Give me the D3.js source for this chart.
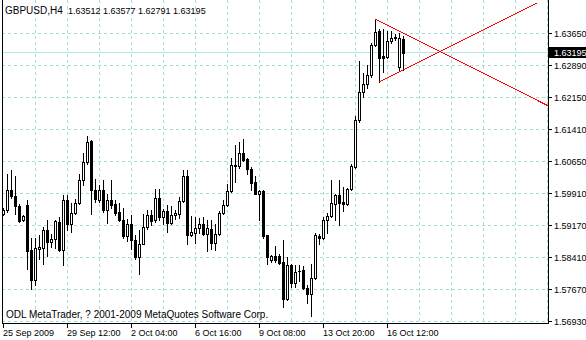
<!DOCTYPE html>
<html><head><meta charset="utf-8">
<script src="https://cdn.jsdelivr.net/npm/d3@7"></script>
<style>
html,body{margin:0;padding:0;background:#fff;overflow:hidden}
svg{display:block}
text{font-family:"Liberation Sans",Arial,sans-serif;fill:#000}
</style></head><body>
<svg id="c" width="586" height="340"></svg>
<script>
const symbol = "GBPUSD,H4";
const copyright = "ODL MetaTrader, ? 2001-2009 MetaQuotes Software Corp.";

const opens = [1.59427,1.59536,1.59987,1.59862,1.59629,1.59287,1.59652,1.58587,1.57902,1.58626,
1.58641,1.59069,1.58781,1.58859,1.59248,1.58602,1.59769,1.59209,1.59458,1.59691,
1.60236,1.60648,1.61138,1.60002,1.59769,1.60002,1.59536,1.59753,1.59660,1.59481,
1.59302,1.58913,1.59209,1.58836,1.58431,1.58742,1.59131,1.59419,1.59287,1.59816,
1.59364,1.59504,1.59224,1.59403,1.59442,1.59730,1.60313,1.58952,1.58991,1.59116,
1.59209,1.58976,1.59092,1.58758,1.58960,1.59458,1.59637,1.59963,1.60547,1.60547,
1.60866,1.60718,1.60492,1.60173,1.59909,1.59963,1.58937,1.58369,1.58447,1.58447,
1.58307,1.57459,1.58237,1.57824,1.58097,1.58120,1.57716,1.57560,1.57949,1.58913,
1.58882,1.59302,1.59396,1.59676,1.59870,1.59714,1.59676,1.60026,1.60531,1.61620,
1.62266,1.62460,1.62670,1.63370,1.63705,1.63114,1.63098,1.63471,1.63541,1.62849,
1.63512];
const highs = [1.59582,1.60376,1.60453,1.60313,1.59676,1.59403,1.59769,1.58882,1.58882,1.58937,
1.59131,1.59287,1.58976,1.59302,1.59364,1.59870,1.59870,1.59691,1.59792,1.60360,
1.60858,1.61247,1.61153,1.60259,1.60103,1.60220,1.59909,1.60220,1.59753,1.59691,
1.59582,1.59326,1.59403,1.58937,1.59069,1.59427,1.59536,1.59520,1.60026,1.60026,
1.59559,1.59637,1.59613,1.59520,1.59831,1.60453,1.60469,1.59380,1.59364,1.59349,
1.59364,1.59302,1.59287,1.59209,1.59504,1.59753,1.60127,1.60749,1.61037,1.61114,
1.61192,1.60749,1.60531,1.60313,1.59987,1.59987,1.58937,1.58470,1.58686,1.58493,
1.58820,1.58431,1.58276,1.58237,1.58237,1.58213,1.57770,1.58276,1.58991,1.58976,
1.59364,1.59458,1.60220,1.59909,1.60220,1.60064,1.60049,1.60593,1.61714,1.62997,
1.62709,1.62904,1.63409,1.63969,1.63744,1.63736,1.63705,1.63705,1.63627,1.63658,
1.63577];
const lows = [1.59403,1.59481,1.59816,1.59427,1.59248,1.59263,1.58159,1.57692,1.57770,1.58392,
1.58276,1.58447,1.58664,1.58649,1.58571,1.58237,1.59053,1.59014,1.59442,1.59660,
1.60103,1.60609,1.59427,1.59714,1.59714,1.59481,1.59224,1.59582,1.59403,1.59271,
1.58882,1.58804,1.58626,1.58392,1.58027,1.58727,1.59092,1.59170,1.59248,1.59302,
1.59209,1.59014,1.59209,1.59326,1.59349,1.59714,1.58727,1.58913,1.58758,1.58991,
1.58937,1.58571,1.58626,1.58587,1.58937,1.59427,1.59613,1.59948,1.60181,1.60516,
1.60671,1.60376,1.59987,1.59893,1.59287,1.58882,1.58260,1.58314,1.58314,1.58276,
1.57264,1.57436,1.57731,1.57731,1.57871,1.57692,1.57358,1.57054,1.57926,1.58727,
1.58859,1.58991,1.59364,1.59287,1.59170,1.59504,1.59637,1.60002,1.60516,1.61581,
1.62165,1.62359,1.62631,1.63347,1.62515,1.62748,1.63075,1.63409,1.63487,1.62771,
1.62791];
const closes = [1.59536,1.59987,1.59847,1.59629,1.59271,1.59380,1.58571,1.57902,1.58649,1.58664,
1.59069,1.58781,1.58859,1.59271,1.58602,1.59769,1.59209,1.59458,1.59691,1.60236,
1.60648,1.61114,1.59987,1.59784,1.60002,1.59536,1.59753,1.59637,1.59458,1.59287,
1.58913,1.59209,1.58836,1.58431,1.58742,1.59131,1.59403,1.59271,1.59816,1.59364,
1.59504,1.59224,1.59403,1.59458,1.59730,1.60313,1.58952,1.59007,1.59116,1.59209,
1.58976,1.59116,1.58758,1.58960,1.59458,1.59637,1.59963,1.60570,1.60570,1.60866,
1.60702,1.60492,1.60158,1.59909,1.59963,1.58913,1.58431,1.58447,1.58369,1.58291,
1.57459,1.58237,1.57824,1.58081,1.58112,1.57716,1.57560,1.57949,1.58937,1.58882,
1.59302,1.59396,1.59699,1.59870,1.59691,1.59676,1.60026,1.60547,1.61620,1.62266,
1.62460,1.62670,1.63370,1.63681,1.63075,1.63075,1.63471,1.63526,1.63557,1.63526,
1.63195];

const xTickBars = [0,16,32,48,64,80,96];
const xTickLabels = ["25 Sep 2009","29 Sep 12:00","2 Oct 04:00","6 Oct 16:00","9 Oct 08:00","13 Oct 20:00","16 Oct 12:00"];
const yTickValues = [1.56930,1.57670,1.58410,1.59170,1.59910,1.60650,1.61410,1.62150,1.62890,1.63650];
const bidPrice = 1.63195;
const upperTrend = [[93,1.63969],[99,1.63689]];
const lowerTrend = [[94,1.62515],[99,1.62748]];

const W = 586, H = 340;
const L = 2, R = 548, T = 3, B = 323;
const GRID = "#a8dcdc", BID = "#aee8e8";

const svg = d3.select("#c");
const x = d3.scaleLinear().domain([0, 100]).range([3, 403]);
const y = d3.scaleLinear().domain([1.5693, 1.6365]).range([321.5, 33]);
const col = i => Math.round(x(i));
const row = v => Math.round(y(v) - 0.5);

svg.append("defs").append("clipPath").attr("id","plot")
  .append("rect").attr("x", L+1).attr("y", T).attr("width", R-L-1).attr("height", B-T);

// grid
const g = svg.append("g").attr("shape-rendering","crispEdges");
const vBars = d3.range(8, 200, 8).filter(b => col(b) < R);
g.selectAll("line.vg").data(vBars).join("line").attr("class","vg")
  .attr("x1", b => col(b)+0.5).attr("x2", b => col(b)+0.5).attr("y1", 0).attr("y2", B)
  .attr("stroke", GRID).attr("stroke-dasharray","3,3");
g.selectAll("line.hg").data(yTickValues).join("line").attr("class","hg")
  .attr("x1", L).attr("x2", R).attr("y1", v => row(v)+0.5).attr("y2", v => row(v)+0.5)
  .attr("stroke", GRID).attr("stroke-dasharray","3,3");

// bid line
g.append("line").attr("x1", L).attr("x2", R)
  .attr("y1", row(bidPrice)+0.5).attr("y2", row(bidPrice)+0.5).attr("stroke", BID);

// candles
const bars = d3.range(opens.length).map(i => ({i, o:opens[i], h:highs[i], l:lows[i], c:closes[i]}));
const cg = svg.append("g").attr("clip-path","url(#plot)").attr("shape-rendering","crispEdges");
cg.selectAll("rect.wick").data(bars).join("rect").attr("class","wick")
  .attr("x", d => col(d.i)).attr("width", 1)
  .attr("y", d => Math.round(y(d.h))).attr("height", d => Math.round(y(d.l)) - Math.round(y(d.h)) + 1)
  .attr("fill", "#000");
cg.selectAll("rect.body").data(bars).join("rect").attr("class","body")
  .each(function(d){
    const top = Math.round(y(Math.max(d.o,d.c))), bot = Math.round(y(Math.min(d.o,d.c)));
    const s = d3.select(this);
    if (d.c >= d.o && bot - top >= 2) {
      s.attr("x", col(d.i)-0.5).attr("y", top+0.5).attr("width", 2).attr("height", bot-top)
       .attr("fill","#fff").attr("stroke","#000").attr("stroke-width",1);
    } else {
      s.attr("x", col(d.i)-1).attr("y", top).attr("width", 3).attr("height", Math.max(1, bot-top+1))
       .attr("fill","#000");
    }
  });

// trend lines (rays)
function ray(a){
  const slope = (a[1][1]-a[0][1])/(a[1][0]-a[0][0]);
  const endI = 160;
  return [a[0], [endI, a[0][1] + slope*(endI - a[0][0])]];
}
const line = d3.line().x(d => x(d[0])+0.5).y(d => y(d[1]));
const tg = svg.append("g").attr("clip-path","url(#plot)");
[upperTrend, lowerTrend].forEach(t => {
  tg.append("path").attr("d", line(ray(t))).attr("fill","none")
    .attr("stroke","#ff0000").attr("stroke-width",1).attr("shape-rendering","crispEdges");
});

// frame & axes
const a = svg.append("g").attr("shape-rendering","crispEdges").attr("stroke","#000");
a.append("line").attr("x1", L+0.5).attr("x2", L+0.5).attr("y1", 0).attr("y2", B+1);
a.append("line").attr("x1", R+0.5).attr("x2", R+0.5).attr("y1", 0).attr("y2", B+1);
a.append("line").attr("x1", L).attr("x2", R+1).attr("y1", B+0.5).attr("y2", B+0.5);
a.selectAll("line.yt").data(yTickValues).join("line").attr("class","yt")
  .attr("x1", R+1).attr("x2", R+4).attr("y1", v => row(v)+0.5).attr("y2", v => row(v)+0.5);
a.selectAll("line.xt").data(xTickBars).join("line").attr("class","xt")
  .attr("x1", b => col(b)+0.5).attr("x2", b => col(b)+0.5).attr("y1", B+1).attr("y2", B+5);

svg.selectAll("text.yl").data(yTickValues).join("text").attr("class","yl")
  .attr("x", 554).attr("y", v => row(v)+3.5).attr("font-size", 9)
  .text(v => v.toFixed(5));
svg.selectAll("text.xl").data(xTickBars).join("text").attr("class","xl")
  .attr("x", b => col(b)).attr("y", 336).attr("font-size", 9)
  .text((b,k) => xTickLabels[k]);

// bid label
const br = row(bidPrice);
svg.append("rect").attr("x", R+1).attr("y", br-5).attr("width", W-R-1).attr("height", 11).attr("fill","#000");
svg.append("text").attr("x", 554).attr("y", br+3.5).attr("font-size", 9).style("fill","#fff")
  .text(bidPrice.toFixed(5));

// title & copyright
const last = opens.length - 1;
const tt = svg.append("text").attr("y", 14).attr("xml:space","preserve");
tt.append("tspan").attr("x", 5).attr("font-size", 10).text(symbol);
tt.append("tspan").attr("x", 68).attr("font-size", 9)
  .text([opens[last], highs[last], lows[last], closes[last]].map(v => v.toFixed(5)).join(" "));
svg.append("text").attr("x", 6).attr("y", 318).attr("font-size", 10).text(copyright);
</script>
</body></html>
